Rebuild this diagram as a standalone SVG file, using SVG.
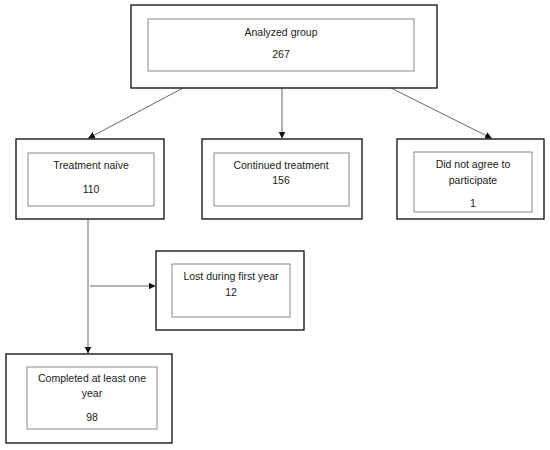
<svg xmlns="http://www.w3.org/2000/svg" width="550" height="450" viewBox="0 0 550 450">
<style>
.outer{fill:#fff;stroke:#1a1a1a;stroke-width:1.4}
.inner{fill:#fff;stroke:#8a8a8a;stroke-width:1}
.t{font-family:"Liberation Sans",Arial,sans-serif;font-size:10.5px;fill:#1a1a1a;text-anchor:middle}
.c{stroke:#555;stroke-width:0.9;fill:none}
</style>
<defs>
<marker id="ah" markerWidth="8" markerHeight="8" refX="7" refY="4" orient="auto" markerUnits="userSpaceOnUse">
<path d="M0,0.5 L7,4 L0,7.5 Z" fill="#111"/>
</marker>
</defs>
<rect width="550" height="450" fill="#fff"/>
<g id="connectors">
<line class="c" x1="183" y1="88" x2="88" y2="138.5" marker-end="url(#ah)"/>
<line class="c" x1="282" y1="88" x2="282" y2="138.5" marker-end="url(#ah)"/>
<line class="c" x1="391" y1="88" x2="492" y2="138.5" marker-end="url(#ah)"/>
<line class="c" x1="88" y1="219" x2="88" y2="353.5" marker-end="url(#ah)"/>
<line class="c" x1="90" y1="286" x2="155.5" y2="286" marker-end="url(#ah)"/>
</g>
<g id="analyzed">
<rect class="outer" x="131" y="5" width="306" height="83"/>
<rect class="inner" x="148" y="19" width="266" height="52"/>
<text class="t" x="281" y="36">Analyzed group</text>
<text class="t" x="281" y="58">267</text>
</g>
<g id="naive">
<rect class="outer" x="16" y="139" width="148" height="80"/>
<rect class="inner" x="28" y="153" width="126" height="53"/>
<text class="t" x="91" y="169">Treatment naive</text>
<text class="t" x="91" y="193">110</text>
</g>
<g id="continued">
<rect class="outer" x="202" y="139" width="160" height="80"/>
<rect class="inner" x="214" y="153" width="135" height="53"/>
<text class="t" x="281" y="169">Continued treatment</text>
<text class="t" x="281" y="184">156</text>
</g>
<g id="notagree">
<rect class="outer" x="397" y="139" width="147" height="80"/>
<rect class="inner" x="414" y="152" width="118" height="60"/>
<text class="t" x="473" y="168">Did not agree to</text>
<text class="t" x="473" y="184">participate</text>
<text class="t" x="473" y="207">1</text>
</g>
<g id="lost">
<rect class="outer" x="156" y="251" width="148" height="79"/>
<rect class="inner" x="172" y="264" width="118" height="53"/>
<text class="t" x="231" y="280">Lost during first year</text>
<text class="t" x="231" y="296">12</text>
</g>
<g id="completed">
<rect class="outer" x="6" y="354" width="166" height="89"/>
<rect class="inner" x="27" y="367" width="130" height="62"/>
<text class="t" x="92" y="382">Completed at least one</text>
<text class="t" x="92" y="397">year</text>
<text class="t" x="92" y="421">98</text>
</g>
</svg>
